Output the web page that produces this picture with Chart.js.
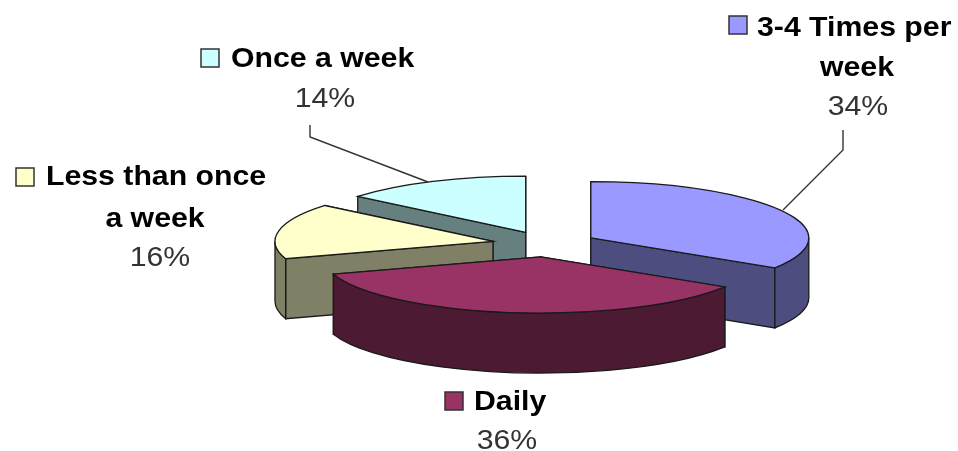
<!DOCTYPE html>
<html lang="en">
<head>
    <meta charset="utf-8">
    <title>Frequency pie</title>
    <script src="https://cdn.jsdelivr.net/npm/chart.js@4"></script>
    <style>
        body { margin: 0; background: #fff; }
        #wrap { width: 958px; height: 451px; }
        #pie { filter: blur(0.7px); }
    </style>
</head>
<body>
    <div id="wrap"><canvas id="pie" width="958" height="451"></canvas></div>
    <script>
        const categories = ["3-4 Times per week", "Daily", "Less than once a week", "Once a week"];
        const values = [34, 36, 16, 14];
        const topColors = ["#9999FF", "#993366", "#FFFFCC", "#CCFFFF"];
        const sideColors = ["#4D4D80", "#4D1A33", "#808066", "#668080"];

        // 3D look
        const centerX = 547, centerY = 244, radius = 218, squash = 0.258, depth = 60;
        const explode = [50, 50, 55, 50];
        const drawOrder = [3, 2, 0, 1];

        const labelFont = 'bold 27px "Liberation Sans", Arial, sans-serif';
        const pctFont = '27px "Liberation Sans", Arial, sans-serif';
        const textStretch = 1.12; // the reference is stretched sideways
        const labelLayout = [
            { key: [729, 16], lines: [["3-4 Times per", 757, 36, "left"], ["week", 857, 76, "center"]], pct: [858, 115] },
            { key: [445, 392], lines: [["Daily", 474, 410, "left"]], pct: [507, 449] },
            { key: [16, 168], lines: [["Less than once", 46, 185, "left"], ["a week", 155, 227, "center"]], pct: [160, 266] },
            { key: [201, 49], lines: [["Once a week", 231, 67, "left"]], pct: [325, 107] }
        ];
        const leaders = [
            [[843, 130], [843, 150], [783, 210]],
            [[310, 125], [310, 137], [428, 182]]
        ];

        function drawSlice(ctx, arc, i) {
            const a = arc.startAngle, b = arc.endAngle, mid = (a + b) / 2;
            const x = centerX + Math.cos(mid) * explode[i];
            const y = centerY + Math.sin(mid) * explode[i] * squash;
            const ry = radius * squash;
            const px = t => x + Math.cos(t) * radius;
            const py = t => y + Math.sin(t) * ry;

            ctx.lineWidth = 1.3;
            ctx.strokeStyle = "#1a1a1a";
            ctx.fillStyle = sideColors[i];

            // straight cut walls, far one first
            [a, b].sort((m, n) => Math.sin(m) - Math.sin(n)).forEach(t => {
                ctx.beginPath();
                ctx.moveTo(x, y);
                ctx.lineTo(px(t), py(t));
                ctx.lineTo(px(t), py(t) + depth);
                ctx.lineTo(x, y + depth);
                ctx.closePath();
                ctx.fill();
                ctx.stroke();
            });

            // rim, only the part facing the viewer
            const from = Math.max(a, 0), to = Math.min(b, Math.PI);
            if (to > from) {
                ctx.beginPath();
                ctx.ellipse(x, y, radius, ry, 0, from, to);
                ctx.ellipse(x, y + depth, radius, ry, 0, to, from, true);
                ctx.closePath();
                ctx.fill();
                ctx.stroke();
            }

            // top face comes from the library's arc element
            ctx.save();
            ctx.translate(x, y);
            ctx.scale(1, squash);
            ctx.translate(-arc.x, -arc.y);
            arc.draw(ctx);
            ctx.restore();

            ctx.beginPath();
            ctx.moveTo(x, y);
            ctx.ellipse(x, y, radius, ry, 0, a, b);
            ctx.closePath();
            ctx.stroke();
        }

        function stretchedText(ctx, text, x, y, align) {
            ctx.save();
            ctx.translate(x, y);
            ctx.scale(textStretch, 1);
            ctx.textAlign = align;
            ctx.fillText(text, 0, 0);
            ctx.restore();
        }

        const pie3d = {
            id: "pie3d",
            beforeDatasetsDraw(chart) {
                const arcs = chart.getDatasetMeta(0).data;
                drawOrder.forEach(i => drawSlice(chart.ctx, arcs[i], i));
                return false;
            },
            afterDraw(chart) {
                const ctx = chart.ctx;
                ctx.save();
                ctx.strokeStyle = "#333";
                ctx.lineWidth = 1.4;
                leaders.forEach(pts => {
                    ctx.beginPath();
                    pts.forEach((p, n) => n ? ctx.lineTo(p[0], p[1]) : ctx.moveTo(p[0], p[1]));
                    ctx.stroke();
                });
                labelLayout.forEach((l, i) => {
                    ctx.fillStyle = topColors[i];
                    ctx.strokeStyle = "#333";
                    ctx.lineWidth = 1.5;
                    ctx.fillRect(l.key[0], l.key[1], 18, 18);
                    ctx.strokeRect(l.key[0], l.key[1], 18, 18);
                    ctx.fillStyle = "#000";
                    ctx.font = labelFont;
                    l.lines.forEach(t => stretchedText(ctx, t[0], t[1], t[2], t[3]));
                    ctx.fillStyle = "#333";
                    ctx.font = pctFont;
                    stretchedText(ctx, values[i] + "%", l.pct[0], l.pct[1], "center");
                });
                ctx.restore();
            }
        };

        new Chart(document.getElementById("pie"), {
            type: "pie",
            plugins: [pie3d],
            data: {
                labels: categories,
                datasets: [{
                    data: values,
                    backgroundColor: topColors,
                    borderWidth: 0,
                    radius: radius
                }]
            },
            options: {
                responsive: false,
                animation: false,
                plugins: { legend: { display: false }, tooltip: { enabled: false } }
            }
        });
    </script>
</body>
</html>
